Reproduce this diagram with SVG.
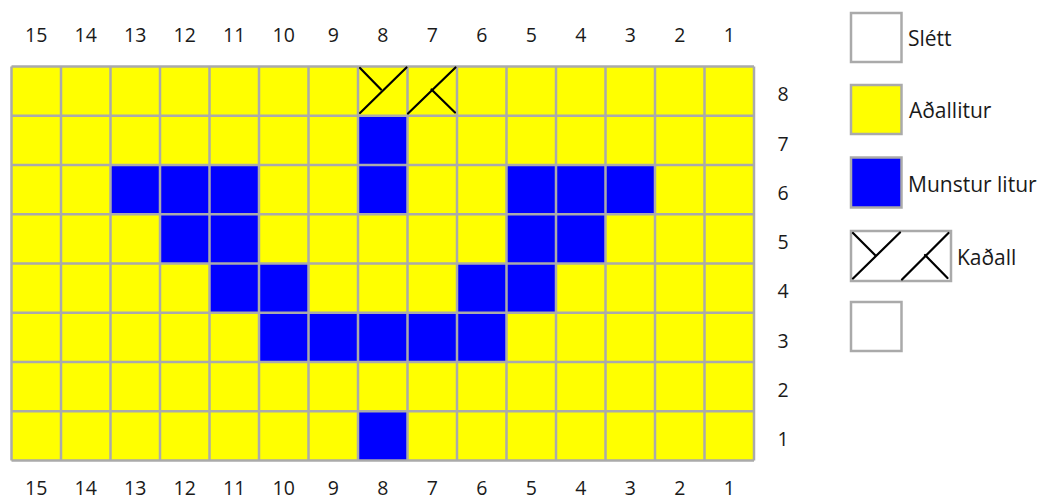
<svg xmlns="http://www.w3.org/2000/svg" width="1040" height="499" viewBox="0 0 1040 499">
  <style>
    .num { font-family: "Open Sans", "DejaVu Sans", sans-serif; font-size: 19.5px; fill: #1a1a1a; text-anchor: middle; }
    .leg { font-family: "Open Sans", "DejaVu Sans", sans-serif; font-size: 21px; fill: #1a1a1a; }
    .y { fill: #ffff00; }
    .b { fill: #0000ff; }
    .grid line { stroke: #aaaaaa; stroke-width: 2.5; }
    .cable { stroke: #000; stroke-width: 2.2; stroke-linecap: round; fill: none; }
    .box { stroke: #aaaaaa; stroke-width: 2.5; }
  </style>
  <rect width="1040" height="499" fill="#ffffff"/>

  <g id="top-labels" class="num">
    <text x="36.25" y="41.7">15</text><text x="85.75" y="41.7">14</text><text x="135.25" y="41.7">13</text>
    <text x="184.75" y="41.7">12</text><text x="234.25" y="41.7">11</text><text x="283.75" y="41.7">10</text>
    <text x="333.25" y="41.7">9</text><text x="382.75" y="41.7">8</text><text x="432.25" y="41.7">7</text>
    <text x="481.75" y="41.7">6</text><text x="531.25" y="41.7">5</text><text x="580.75" y="41.7">4</text>
    <text x="630.25" y="41.7">3</text><text x="679.75" y="41.7">2</text><text x="729.25" y="41.7">1</text>
  </g>
  <g id="bottom-labels" class="num">
    <text x="36.25" y="494.5">15</text><text x="85.75" y="494.5">14</text><text x="135.25" y="494.5">13</text>
    <text x="184.75" y="494.5">12</text><text x="234.25" y="494.5">11</text><text x="283.75" y="494.5">10</text>
    <text x="333.25" y="494.5">9</text><text x="382.75" y="494.5">8</text><text x="432.25" y="494.5">7</text>
    <text x="481.75" y="494.5">6</text><text x="531.25" y="494.5">5</text><text x="580.75" y="494.5">4</text>
    <text x="630.25" y="494.5">3</text><text x="679.75" y="494.5">2</text><text x="729.25" y="494.5">1</text>
  </g>
  <g id="row-labels" class="num">
    <text x="783" y="101">8</text><text x="783" y="150.5">7</text><text x="783" y="199.5">6</text>
    <text x="783" y="249">5</text><text x="783" y="298">4</text><text x="783" y="347.5">3</text>
    <text x="783" y="396.5">2</text><text x="783" y="446">1</text>
  </g>

  <g id="chart">
    <rect class="y" x="11.5" y="66.5" width="742.5" height="394"/>
    <g id="pattern" class="b">
      <rect x="358" y="115.75" width="49.5" height="49.25"/>
      <rect x="110.5" y="165" width="148.5" height="49.25"/>
      <rect x="358" y="165" width="49.5" height="49.25"/>
      <rect x="506.5" y="165" width="148.5" height="49.25"/>
      <rect x="160" y="214.25" width="99" height="49.25"/>
      <rect x="506.5" y="214.25" width="99" height="49.25"/>
      <rect x="209.5" y="263.5" width="99" height="49.25"/>
      <rect x="457" y="263.5" width="99" height="49.25"/>
      <rect x="259" y="312.75" width="247.5" height="49.25"/>
      <rect x="358" y="411.25" width="49.5" height="49.25"/>
    </g>
    <g class="grid">
      <line x1="11.5" y1="66.5" x2="11.5" y2="460.5"/><line x1="61" y1="66.5" x2="61" y2="460.5"/>
      <line x1="110.5" y1="66.5" x2="110.5" y2="460.5"/><line x1="160" y1="66.5" x2="160" y2="460.5"/>
      <line x1="209.5" y1="66.5" x2="209.5" y2="460.5"/><line x1="259" y1="66.5" x2="259" y2="460.5"/>
      <line x1="308.5" y1="66.5" x2="308.5" y2="460.5"/><line x1="358" y1="66.5" x2="358" y2="460.5"/>
      <line x1="407.5" y1="66.5" x2="407.5" y2="460.5"/><line x1="457" y1="66.5" x2="457" y2="460.5"/>
      <line x1="506.5" y1="66.5" x2="506.5" y2="460.5"/><line x1="556" y1="66.5" x2="556" y2="460.5"/>
      <line x1="605.5" y1="66.5" x2="605.5" y2="460.5"/><line x1="655" y1="66.5" x2="655" y2="460.5"/>
      <line x1="704.5" y1="66.5" x2="704.5" y2="460.5"/><line x1="754" y1="66.5" x2="754" y2="460.5"/>
      <line x1="11.5" y1="66.5" x2="754" y2="66.5"/><line x1="11.5" y1="115.75" x2="754" y2="115.75"/>
      <line x1="11.5" y1="165" x2="754" y2="165"/><line x1="11.5" y1="214.25" x2="754" y2="214.25"/>
      <line x1="11.5" y1="263.5" x2="754" y2="263.5"/><line x1="11.5" y1="312.75" x2="754" y2="312.75"/>
      <line x1="11.5" y1="362" x2="754" y2="362"/><line x1="11.5" y1="411.25" x2="754" y2="411.25"/>
      <line x1="11.5" y1="460.5" x2="754" y2="460.5"/>
    </g>
    <g id="cable-chart" class="cable">
      <line x1="406.5" y1="67.5" x2="360" y2="113"/>
      <line x1="360" y1="68" x2="381" y2="89.5"/>
      <line x1="455.5" y1="67.5" x2="408" y2="113.5"/>
      <line x1="431.5" y1="89.5" x2="455" y2="112.5"/>
    </g>
  </g>

  <g id="legend-slett">
    <rect class="box" x="851" y="13" width="50.5" height="49" fill="#ffffff"/>
    <text class="leg" x="908" y="46">Slétt</text>
  </g>
  <g id="legend-adallitur">
    <rect class="box" x="851" y="85" width="50.5" height="49" fill="#ffff00"/>
    <text class="leg" x="909" y="118">Aðallitur</text>
  </g>
  <g id="legend-munstur">
    <rect class="box" x="851" y="157.5" width="50.5" height="50" fill="#0000ff" stroke="#9999ee"/>
    <text class="leg" x="908" y="192">Munstur litur</text>
  </g>
  <g id="legend-kadall">
    <rect class="box" x="851" y="231" width="100" height="50" fill="#ffffff"/>
    <g class="cable">
      <line x1="900" y1="232.5" x2="853" y2="278.5"/>
      <line x1="853" y1="233" x2="875" y2="255"/>
      <line x1="948.5" y1="233" x2="902" y2="279.5"/>
      <line x1="925" y1="255" x2="947.5" y2="278"/>
    </g>
    <text class="leg" x="957" y="265">Kaðall</text>
  </g>
  <g id="legend-empty">
    <rect class="box" x="851" y="302" width="50.5" height="49" fill="#ffffff"/>
  </g>
</svg>
